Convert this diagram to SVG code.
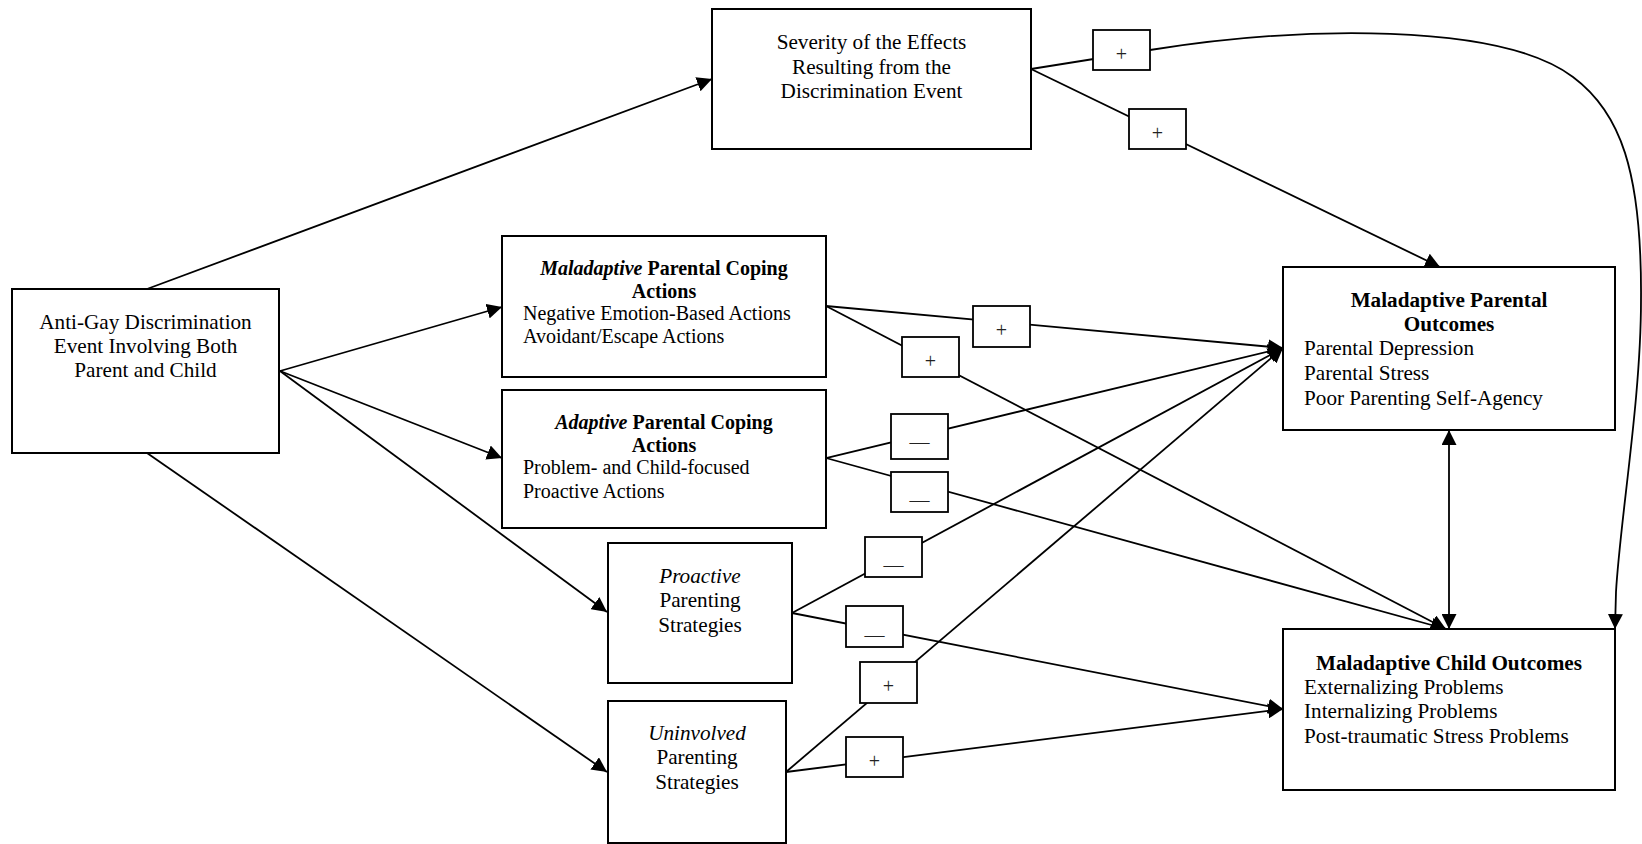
<svg xmlns="http://www.w3.org/2000/svg" width="1642" height="844" viewBox="0 0 1642 844">
<defs>
<style>
.box{fill:#fff;stroke:#000;stroke-width:2}
.lbl{fill:#fff;stroke:#000;stroke-width:1.8}
.edge{fill:none;stroke:#000;stroke-width:1.8}
text{font-family:"Liberation Serif","Times New Roman",serif;font-size:21.2px;fill:#000}
.s{font-size:20px}
.c{text-anchor:middle}
.b{font-weight:bold}
.i{font-style:italic}
.sign{font-size:20px;fill:#222;text-anchor:middle}
</style>
<marker id="arr" markerUnits="userSpaceOnUse" markerWidth="15" markerHeight="15" viewBox="0 0 15 15" refX="15" refY="7.5" orient="auto-start-reverse">
<path d="M0,0 L15,7.5 L0,15 z" fill="#000"/>
</marker>
</defs>
<rect width="1642" height="844" fill="#fff"/>

<g id="connectors">
<line class="edge" x1="147" y1="289" x2="712" y2="79" marker-end="url(#arr)"/>
<line class="edge" x1="280" y1="371" x2="502" y2="307" marker-end="url(#arr)"/>
<line class="edge" x1="280" y1="371" x2="502" y2="458" marker-end="url(#arr)"/>
<line class="edge" x1="280" y1="371" x2="607" y2="612" marker-end="url(#arr)"/>
<line class="edge" x1="147" y1="453" x2="607" y2="772" marker-end="url(#arr)"/>
<path class="edge" d="M1031,69 L1150,50 C1300,26 1500,22 1573,77 C1620,112 1642,170 1641,300 C1641,400 1620,520 1616,592 L1615,629" marker-end="url(#arr)"/>
<line class="edge" x1="1031" y1="69" x2="1440" y2="267" marker-end="url(#arr)"/>
<line class="edge" x1="826" y1="306" x2="1283" y2="348" marker-end="url(#arr)"/>
<line class="edge" x1="826" y1="306" x2="1446" y2="629" marker-end="url(#arr)"/>
<line class="edge" x1="826" y1="458" x2="1283" y2="348" marker-end="url(#arr)"/>
<line class="edge" x1="826" y1="458" x2="1446" y2="629" marker-end="url(#arr)"/>
<line class="edge" x1="792" y1="613" x2="1283" y2="348" marker-end="url(#arr)"/>
<line class="edge" x1="792" y1="613" x2="1283" y2="709" marker-end="url(#arr)"/>
<line class="edge" x1="786" y1="772" x2="1283" y2="348" marker-end="url(#arr)"/>
<line class="edge" x1="786" y1="772" x2="1283" y2="709" marker-end="url(#arr)"/>
<line class="edge" x1="1449" y1="430" x2="1449" y2="629" marker-start="url(#arr)" marker-end="url(#arr)"/>
</g>

<g id="edge-labels">
<g id="lbl-sev-child"><rect class="lbl" x="1093" y="30" width="57" height="40"/><text class="sign" x="1121.5" y="61">+</text></g>
<g id="lbl-sev-parent"><rect class="lbl" x="1129" y="109" width="57" height="40"/><text class="sign" x="1157.5" y="140">+</text></g>
<g id="lbl-mal-parent"><rect class="lbl" x="973" y="306" width="57" height="41"/><text class="sign" x="1001.5" y="337">+</text></g>
<g id="lbl-mal-child"><rect class="lbl" x="902" y="337" width="57" height="40"/><text class="sign" x="930.5" y="368">+</text></g>
<g id="lbl-ada-parent"><rect class="lbl" x="891" y="414" width="57" height="45"/><text class="sign" x="919.5" y="449">—</text></g>
<g id="lbl-ada-child"><rect class="lbl" x="891" y="472" width="57" height="40"/><text class="sign" x="919.5" y="507">—</text></g>
<g id="lbl-pro-parent"><rect class="lbl" x="865" y="537" width="57" height="40"/><text class="sign" x="893.5" y="572">—</text></g>
<g id="lbl-pro-child"><rect class="lbl" x="846" y="606" width="57" height="41"/><text class="sign" x="874.5" y="642">—</text></g>
<g id="lbl-uni-parent"><rect class="lbl" x="860" y="662" width="57" height="41"/><text class="sign" x="888.5" y="693">+</text></g>
<g id="lbl-uni-child"><rect class="lbl" x="846" y="737" width="57" height="40"/><text class="sign" x="874.5" y="768">+</text></g>
</g>

<g id="node-event">
<rect class="box" x="12" y="289" width="267" height="164"/>
<text class="c" x="145.5" y="329">Anti-Gay Discrimination</text>
<text class="c" x="145.5" y="353">Event Involving Both</text>
<text class="c" x="145.5" y="377">Parent and Child</text>
</g>

<g id="node-severity">
<rect class="box" x="712" y="9" width="319" height="140"/>
<text class="c" x="871.5" y="49">Severity of the Effects</text>
<text class="c" x="871.5" y="74">Resulting from the</text>
<text class="c" x="871.5" y="98">Discrimination Event</text>
</g>

<g id="node-maladaptive-coping">
<rect class="box" x="502" y="236" width="324" height="141"/>
<text class="c b s" x="664" y="275"><tspan class="i">Maladaptive</tspan> Parental Coping</text>
<text class="c b s" x="664" y="298">Actions</text>
<text class="s" x="523" y="320">Negative Emotion-Based Actions</text>
<text class="s" x="523" y="343">Avoidant/Escape Actions</text>
</g>

<g id="node-adaptive-coping">
<rect class="box" x="502" y="390" width="324" height="138"/>
<text class="c b s" x="664" y="429"><tspan class="i">Adaptive</tspan> Parental Coping</text>
<text class="c b s" x="664" y="452">Actions</text>
<text class="s" x="523" y="474">Problem- and Child-focused</text>
<text class="s" x="523" y="498">Proactive Actions</text>
</g>

<g id="node-proactive">
<rect class="box" x="608" y="543" width="184" height="140"/>
<text class="c i" x="700" y="583">Proactive</text>
<text class="c" x="700" y="607">Parenting</text>
<text class="c" x="700" y="632">Strategies</text>
</g>

<g id="node-uninvolved">
<rect class="box" x="608" y="701" width="178" height="142"/>
<text class="c i" x="697" y="740">Uninvolved</text>
<text class="c" x="697" y="764">Parenting</text>
<text class="c" x="697" y="789">Strategies</text>
</g>

<g id="node-parental-outcomes">
<rect class="box" x="1283" y="267" width="332" height="163"/>
<text class="c b" x="1449" y="307">Maladaptive Parental</text>
<text class="c b" x="1449" y="331">Outcomes</text>
<text x="1304" y="355">Parental Depression</text>
<text x="1304" y="380">Parental Stress</text>
<text x="1304" y="405">Poor Parenting Self-Agency</text>
</g>

<g id="node-child-outcomes">
<rect class="box" x="1283" y="629" width="332" height="161"/>
<text class="c b" x="1449" y="670">Maladaptive Child Outcomes</text>
<text x="1304" y="694">Externalizing Problems</text>
<text x="1304" y="718">Internalizing Problems</text>
<text x="1304" y="743">Post-traumatic Stress Problems</text>
</g>
</svg>
